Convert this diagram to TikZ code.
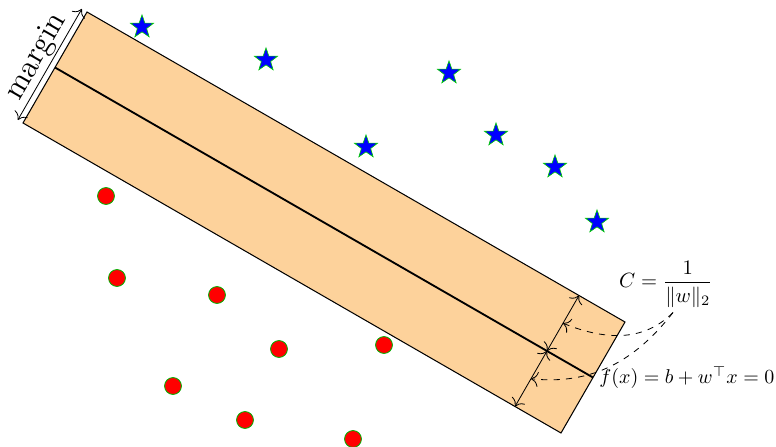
\documentclass[tikz,border=0pt]{standalone}
\usetikzlibrary{shapes.geometric,calc,arrows.meta}
\definecolor{bandfill}{RGB}{253,210,155}
\tikzset{
  posstar/.style={star, star points=5, star point ratio=2.5, fill=blue, draw=green!80!black, line width=0.3pt, inner sep=0pt, minimum size=11.8pt},
  negdot/.style={circle, fill=red, draw=green!70!black, line width=0.4pt, inner sep=0pt, minimum size=8.2pt},
  band/.style={fill=bandfill, draw=black, line width=0.5pt},
  sepline/.style={line width=0.9pt},
  marg/.style={{To[scale=1.4]}-{To[scale=1.4]}, line width=0.4pt},
  callout/.style={-{To[scale=1.4]}, dashed, line width=0.4pt}
}
\begin{document}
\begin{tikzpicture}[x=0.4854pt, y=0.4854pt]
\useasboundingbox (0,0) rectangle (776,-447);
% band corners
\coordinate (A) at (87,-12);
\coordinate (B) at (625,-322);
\coordinate (C) at (561,-433);
\coordinate (D) at (23,-123);
\draw[band] (A) -- (B) -- (C) -- (D) -- cycle;
% separating line
\coordinate (L) at ($(A)!0.5!(D)$);
\coordinate (R) at ($(B)!0.5!(C)$);
\draw[sepline] (L) -- (R);
% margin arrow
\coordinate (m1) at (81.8,-9);
\coordinate (m2) at (17.8,-120);
\draw[marg] (m1) -- (m2);
\node[rotate=60, anchor=south, inner sep=0.5pt, scale=1.07] (mlabel) at ($(m1)!0.5!(m2)$) {\Large margin};
% width arrows
\coordinate (P) at ($(L)!0.9145!(R)$);
\coordinate (U) at ($(A)!0.9145!(B)$);
\coordinate (W) at ($(D)!0.9145!(C)$);
\draw[marg] (P) -- (U);
\draw[marg] (P) -- (W);
\coordinate (mu) at ($(P)!0.5!(U)$);
\coordinate (mw) at ($(P)!0.5!(W)$);
% labels
\node (cfrac) at (666,-284) {$\displaystyle C=\frac{1}{\|w\|_2}$};
\node[anchor=west, scale=0.97, inner sep=3pt] (fx) at (R) {$f(x)=b+w^\top x=0$};
\coordinate (cs) at ($(cfrac.south)+(7,2)$);
\draw[callout] (cs) to[out=225, in=-22] (mu);
\draw[callout] (cs) to[out=232, in=-6] (mw);
% positive points
\node[posstar] (s1) at (142,-27) {};
\node[posstar] (s2) at (266,-60) {};
\node[posstar] (s3) at (449,-73) {};
\node[posstar] (s4) at (366,-147) {};
\node[posstar] (s5) at (496,-135) {};
\node[posstar] (s6) at (555,-167) {};
\node[posstar] (s7) at (597,-222) {};
% negative points
\node[negdot] (c1) at (106,-196) {};
\node[negdot] (c2) at (117,-278) {};
\node[negdot] (c3) at (217,-295) {};
\node[negdot] (c4) at (279,-349) {};
\node[negdot] (c5) at (384,-345) {};
\node[negdot] (c6) at (173,-386) {};
\node[negdot] (c7) at (245,-420) {};
\node[negdot] (c8) at (353,-439) {};
\end{tikzpicture}
\end{document}
